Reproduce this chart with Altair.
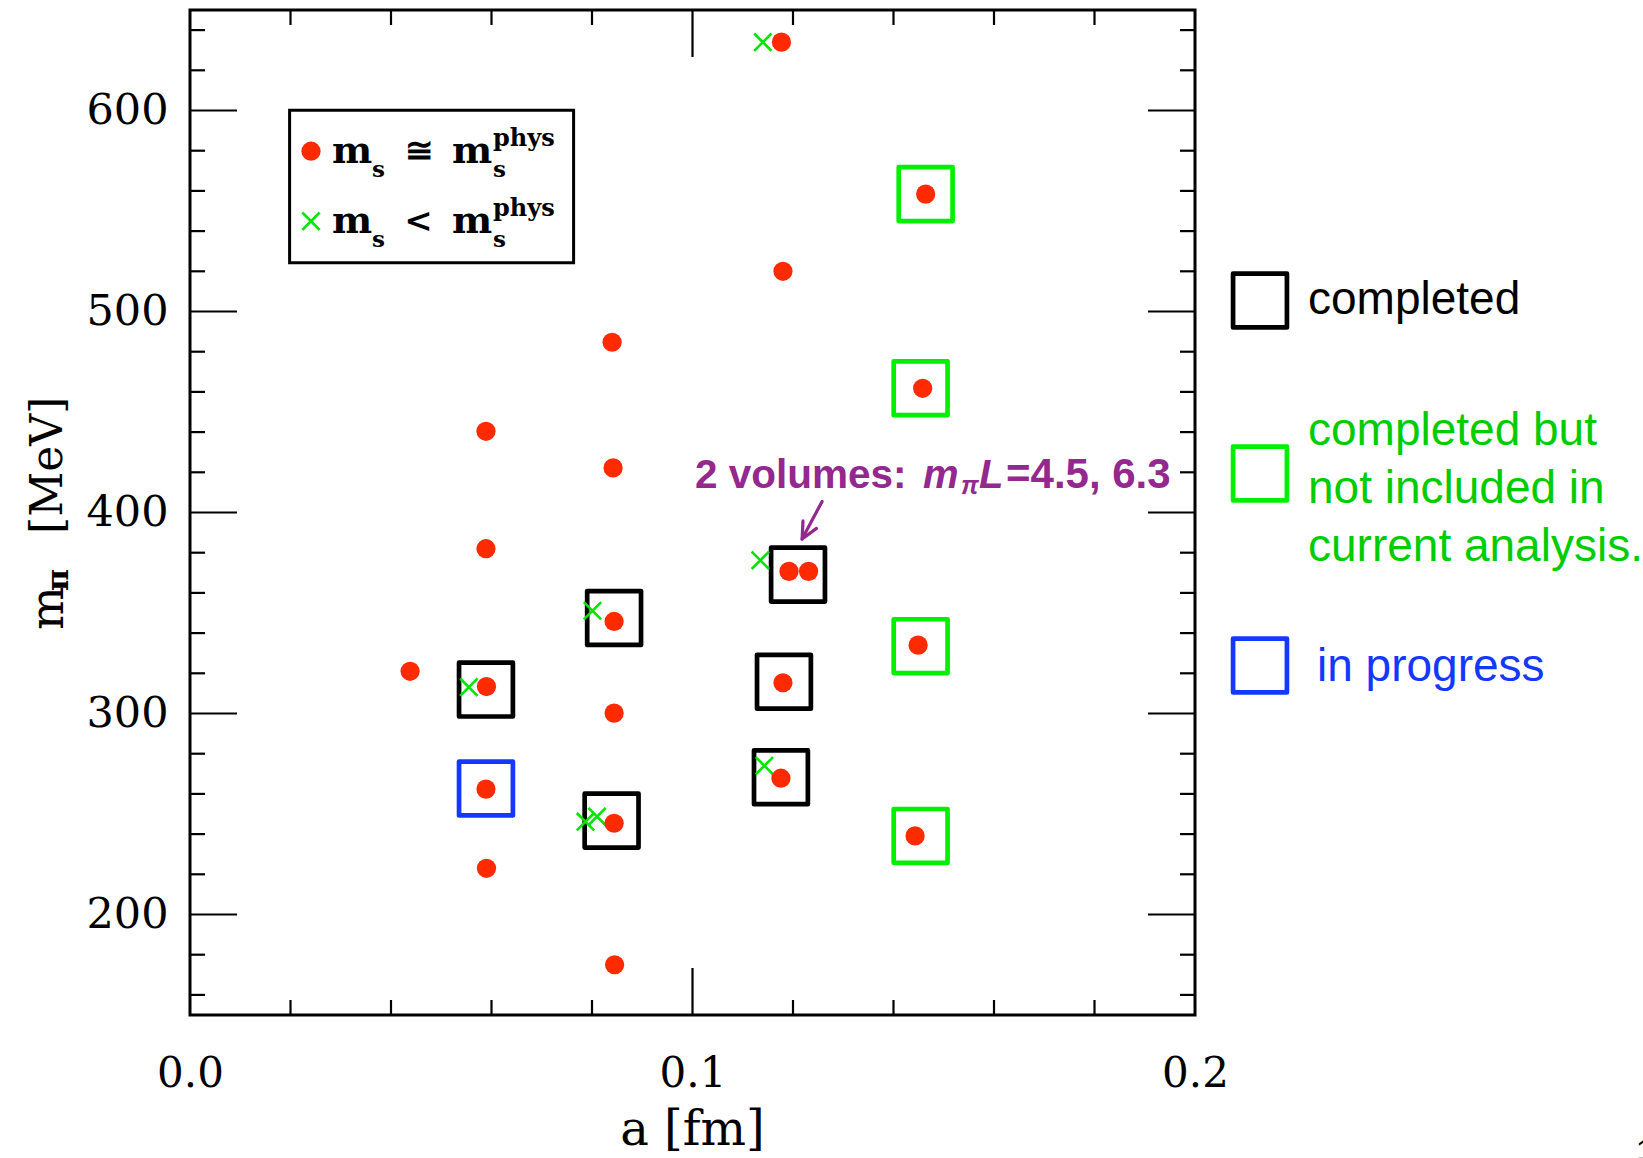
import altair as alt
import pandas as pd

# ---------------- data ----------------
# red dots: m_s ~ m_s^phys
red_a = [0.0438, 0.0589, 0.0589, 0.0590, 0.0589, 0.0590,
         0.0840, 0.0842, 0.0844, 0.0844, 0.0844, 0.0845,
         0.1177, 0.1180, 0.1192, 0.1231, 0.1180, 0.1176,
         0.1464, 0.1458, 0.1449, 0.1443]
red_m = [321.0, 440.4, 382.0, 313.4, 262.4, 223.0,
         484.7, 422.2, 345.8, 300.2, 245.4, 175.0,
         634.0, 520.0, 370.7, 370.7, 315.3, 267.8,
         558.4, 461.8, 334.0, 239.1]
# green crosses: m_s < m_s^phys
cross_a = [0.1140, 0.1135, 0.0801, 0.0555, 0.1143, 0.0787, 0.0810]
cross_m = [634.0, 376.2, 351.1, 313.1, 274.0, 246.2, 248.7]
# status boxes
box_a = [0.0589, 0.0844, 0.0839, 0.1210, 0.1182, 0.1176,
         0.1464, 0.1454, 0.1454, 0.1454,
         0.0589]
box_m = [311.9, 347.5, 246.7, 369.1, 315.8, 268.3,
         558.4, 461.8, 333.5, 239.1,
         262.7]
box_status = ["completed"] * 6 + ["not included"] * 4 + ["in progress"]
status_names = ["completed", "not included", "in progress"]
status_colors = ["#000000", "#00f000", "#1438ff"]

# axis ticks / labels
x_labels = [0.0, 0.1, 0.2]
y_labels = [200, 300, 400, 500, 600]
x_major = [0.1]
x_minor = [0.02, 0.04, 0.06, 0.08, 0.12, 0.14, 0.16, 0.18]
y_major = [200, 300, 400, 500, 600]
y_minor = [160, 180, 220, 240, 260, 280, 320, 340, 360, 380,
           420, 440, 460, 480, 520, 540, 560, 580, 620, 640]

# arrow of the annotation (data coordinates)
arrow_a = [0.12579, 0.12181, 0.12199, 0.12181, 0.12468]
arrow_m = [405.5, 386.8, 395.8, 386.8, 392.1]
arrow_grp = [0, 0, 1, 1, 1]
arrow_ord = [0, 1, 0, 1, 2]

# ---------------- styling ----------------
W, H = 1005, 1005
SERIF = "DejaVu Serif"
SANS = "Liberation Sans"
RED = "#ff2a00"
XGREEN = "#00e400"
TGREEN = "#00cc00"
PURPLE = "#93288e"
MAJ, MIN = 47, 15

xs = alt.Scale(domain=[0, 0.2], nice=False, zero=False)
ys = alt.Scale(domain=[150, 650], nice=False, zero=False)

XAX = alt.Axis(values=x_labels, format=".1f", labelFont=SERIF, labelFontSize=42,
               labelColor="black", labelPadding=38, ticks=False, domain=False,
               grid=False, title=None, labelFlush=False, labelOverlap=False)
YAX = alt.Axis(values=y_labels, format="d", labelFont=SERIF, labelFontSize=43,
               labelColor="black", labelPadding=22, ticks=False, domain=False,
               grid=False, title=None, labelFlush=False, labelOverlap=False)


def X(f):
    return alt.X(f, scale=xs, axis=XAX)


def Y(f):
    return alt.Y(f, scale=ys, axis=YAX)


one = pd.DataFrame({"t": ["_"]})


def label(txt, x, y, size, font=SERIF, color="black", weight="normal",
          style="normal", align="left", baseline="alphabetic", angle=0):
    kw = dict(text=txt, font=font, fontSize=size, color=color,
              fontWeight=weight, fontStyle=style, align=align,
              baseline=baseline)
    if angle:
        kw["angle"] = angle
    return alt.Chart(one).mark_text(**kw).encode(
        x=alt.value(x), y=alt.value(y))


# status boxes
boxes = alt.Chart(pd.DataFrame({"a": box_a, "m": box_m, "s": box_status})).mark_point(
    shape="square", filled=False, size=2900, strokeWidth=4.7, opacity=1,
    strokeJoin="round"
).encode(
    x=X("a:Q"), y=Y("m:Q"),
    color=alt.Color("s:N", scale=alt.Scale(domain=status_names,
                                           range=status_colors), legend=None),
)

crosses = alt.Chart(pd.DataFrame({"a": cross_a, "m": cross_m})).mark_point(
    shape="M-1,-1L1,1M-1,1L1,-1", filled=False, size=300, strokeWidth=2.6,
    color=XGREEN, opacity=1
).encode(x=X("a:Q"), y=Y("m:Q"))

dots = alt.Chart(pd.DataFrame({"a": red_a, "m": red_m})).mark_circle(
    size=370, color=RED, opacity=1
).encode(x=X("a:Q"), y=Y("m:Q"))


# inward ticks on all four sides
def yticks(vals, length):
    df = pd.DataFrame({"v": vals})
    left = alt.Chart(df).mark_rule(color="black", strokeWidth=2.2).encode(
        y=Y("v:Q"), x=alt.value(0), x2=alt.value(length))
    right = alt.Chart(df).mark_rule(color="black", strokeWidth=2.2).encode(
        y=Y("v:Q"), x=alt.value(W), x2=alt.value(W - length))
    return [left, right]


def xticks(vals, length):
    df = pd.DataFrame({"v": vals})
    top = alt.Chart(df).mark_rule(color="black", strokeWidth=2.2).encode(
        x=X("v:Q"), y=alt.value(0), y2=alt.value(length))
    bot = alt.Chart(df).mark_rule(color="black", strokeWidth=2.2).encode(
        x=X("v:Q"), y=alt.value(H), y2=alt.value(H - length))
    return [top, bot]


ticks = yticks(y_major, MAJ) + yticks(y_minor, MIN) + xticks(x_major, MAJ) + xticks(x_minor, MIN)

# annotation arrow
arrow = alt.Chart(pd.DataFrame({"a": arrow_a, "m": arrow_m, "g": arrow_grp, "o": arrow_ord})).mark_line(
    color=PURPLE, strokeWidth=3.2, strokeCap="round", strokeJoin="round"
).encode(x=X("a:Q"), y=Y("m:Q"), detail="g:N", order="o:Q")

annot = [
    label("2 volumes:", 505, 477.5, 40.5, font=SANS, color=PURPLE, weight="bold"),
    label("m", 733, 477.5, 40, font=SANS, color=PURPLE, weight="bold", style="italic"),
    label("π", 771, 484, 25, font=SANS, color=PURPLE, weight="bold", style="italic"),
    label("L", 789, 477.5, 40, font=SANS, color=PURPLE, weight="bold", style="italic"),
    label("=4.5, 6.3", 816, 477.5, 42, font=SANS, color=PURPLE, weight="bold"),
]

# inner legend box
lbox = alt.Chart(one).mark_rect(fill="white", stroke="black", strokeWidth=3).encode(
    x=alt.value(99.6), x2=alt.value(383.6), y=alt.value(100.2), y2=alt.value(252.8))
ldot = alt.Chart(one).mark_circle(size=370, color=RED, opacity=1).encode(
    x=alt.value(121), y=alt.value(141.2))
lcross = alt.Chart(one).mark_point(shape="M-1,-1L1,1M-1,1L1,-1", filled=False, size=300,
                                   strokeWidth=2.6, color=XGREEN, opacity=1).encode(
    x=alt.value(121), y=alt.value(211.2))
ltext = []
for dy, rel in [(0, "≅"), (70, "<")]:
    ltext += [
        label("m", 142, 152.5 + dy, 38, weight="bold"),
        label("s", 182, 166.5 + dy, 23, weight="bold"),
        label(rel, 228.5, 141.5 + dy, 34, weight="bold", align="center", baseline="middle"),
        label("m", 262, 152.5 + dy, 38, weight="bold"),
        label("s", 303, 166.5 + dy, 23, weight="bold"),
        label("phys", 303, 136 + dy, 24, weight="bold"),
    ]

# axis titles
titles = [
    label("a  [fm]", W / 2, 1121, 48, align="center", baseline="middle"),
    label("m", -127, 620, 46, angle=270),
    label("π", -122, 581, 30, angle=270, weight="bold"),
    label("[MeV]", -128, 524, 44, angle=270),
]

# outer status legend
side = []
for name, col, cy in zip(status_names, status_colors, [290.5, 463.5, 655.5]):
    side.append(alt.Chart(pd.DataFrame({"s": [name]})).mark_point(
        shape="square", filled=False, size=2900, strokeWidth=4.7, opacity=1,
        color=col, strokeJoin="round").encode(x=alt.value(1070), y=alt.value(cy)))
side += [
    label("completed", 1118, 303.5, 46, font=SANS),
    label("completed but", 1118, 434.5, 46, font=SANS, color=TGREEN),
    label("not included in", 1118, 492.5, 46, font=SANS, color=TGREEN),
    label("current analysis.", 1118, 551, 46, font=SANS, color=TGREEN),
    label("in progress", 1127, 671, 46, font=SANS, color="#1438ff"),
    label("1", 1446, 1150, 30, font=SANS),
]

chart = alt.layer(
    boxes, crosses, dots, *ticks, arrow, *annot, lbox, ldot, lcross, *ltext,
    *titles, *side
).properties(
    width=W, height=H,
    autosize=alt.AutoSizeParams(type="none"),
    padding={"left": 190, "top": 10, "right": 448, "bottom": 143},
    background="white",
).configure_view(stroke="black", strokeWidth=3)

chart.save("out.html", embed_options={"renderer": "svg", "actions": False})
